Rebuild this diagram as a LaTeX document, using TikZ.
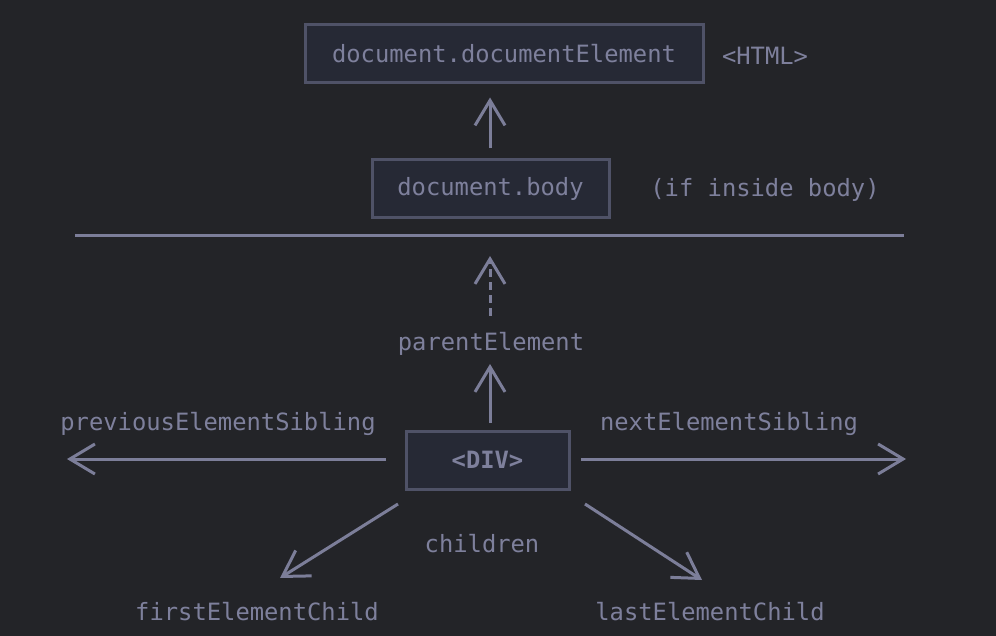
\documentclass[tikz,border=0pt]{standalone}
\usepackage{fontspec}
\setmonofont{DejaVu Sans Mono}
\usetikzlibrary{arrows.meta}
\definecolor{bg}{HTML}{232428}
\definecolor{boxfill}{HTML}{262935}
\definecolor{boxline}{HTML}{4F5267}
\definecolor{txt}{HTML}{7E809C}
\definecolor{ln}{HTML}{7C7E99}
\begin{document}
\begin{tikzpicture}[x=1pt,y=-1pt,
  lbl/.style={font=\ttfamily\fontsize{23.8}{28}\selectfont, text=txt, inner sep=0pt, anchor=base},
  box/.style={draw=boxline, fill=boxfill, line width=3pt, font=\ttfamily\fontsize{23.8}{28}\selectfont, text=txt, minimum height=58pt},
  arr/.style={draw=ln, line width=3pt, -{Straight Barb[length=25pt, width=30pt, line width=3pt]}},
  plain/.style={draw=ln, line width=3pt}]
\fill[bg] (0,0) rectangle (996,636);
\useasboundingbox (0,0) rectangle (996,636);

% boxes
\node[box, minimum width=398pt] (html) at (504,54) {document.documentElement};
\node[lbl] (htmltag) at (765,65) {<HTML>};
\node[box, minimum width=237pt] (body) at (490.5,189) {document.body};
\node[lbl] (ifbody) at (765,197) {(if inside body)};

% separator
\coordinate (lineL) at (75,236);
\coordinate (lineR) at (904,236);
\coordinate (lineM) at (490,236);
\draw[plain] (lineL) -- (lineR);

% parent
\node[lbl] (parent) at (491,350) {parentElement};
\node[box, minimum width=163pt, font=\ttfamily\bfseries\fontsize{23.8}{28}\selectfont] (div) at (487.5,460) {<DIV>};

\node[lbl] (prev) at (218,430) {previousElementSibling};
\node[lbl] (next) at (729,430) {nextElementSibling};
\node[lbl] (children) at (482,552) {children};
\node[lbl] (first) at (257,620) {firstElementChild};
\node[lbl] (last) at (710,620) {lastElementChild};

% arrows
\draw[arr, shorten <=10pt, shorten >=13pt] ([xshift=-0.5pt]body.north) -- ([xshift=-14pt]html.south);
\draw[arr, dash pattern=on 8pt off 5pt, shorten >=20pt] (490,316) -- (lineM);
\coordinate (divTop) at (490,431);
\draw[arr, shorten <=8pt] (divTop) -- (490,364);
\coordinate (prevStart) at (386,459);
\coordinate (prevEnd) at (67,459);
\draw[arr] (prevStart) -- (prevEnd);
\coordinate (nextStart) at (581,459);
\coordinate (nextEnd) at (906,459);
\draw[arr] (nextStart) -- (nextEnd);
\coordinate (fcStart) at (398,504);
\coordinate (fcEnd) at (280,578);
\draw[arr] (fcStart) -- (fcEnd);
\coordinate (lcStart) at (585,504);
\coordinate (lcEnd) at (702,580);
\draw[arr] (lcStart) -- (lcEnd);
\end{tikzpicture}
\end{document}
